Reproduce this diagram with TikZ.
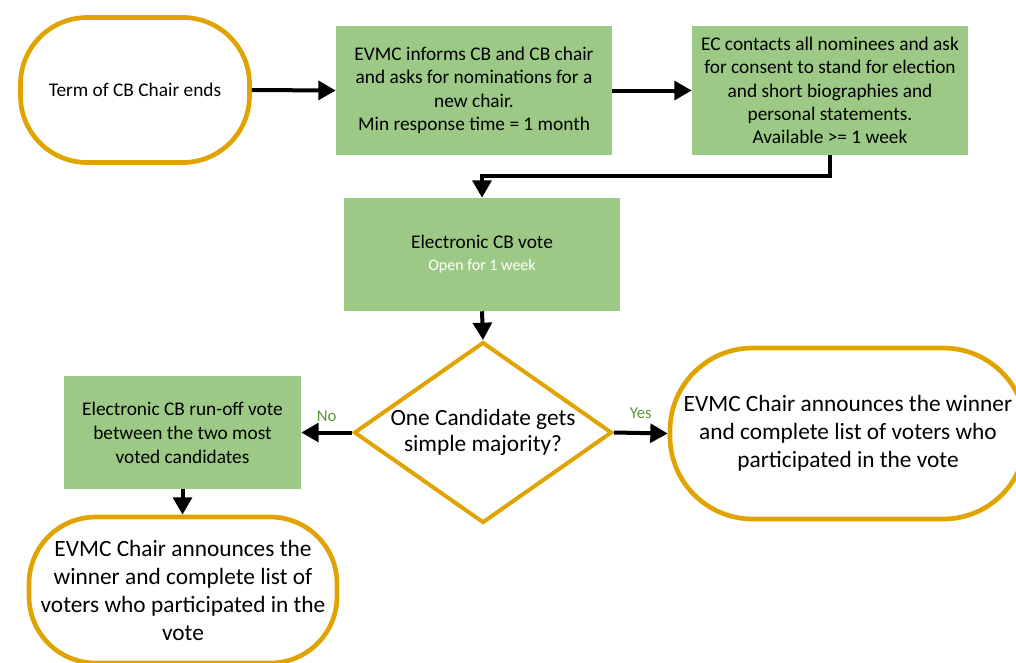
\documentclass[tikz,border=0pt]{standalone}
\usepackage{fontspec}
\setmainfont{Carlito}
\usetikzlibrary{shapes.geometric,arrows.meta}
\definecolor{gold}{RGB}{224,163,0}
\definecolor{boxgreen}{RGB}{157,201,134}
\definecolor{lblgreen}{RGB}{96,150,58}
\begin{document}
\begin{tikzpicture}[x=0.75pt,y=-0.75pt,
  terminal/.style={draw=gold, line width=3.5pt, fill=white, rounded corners=50pt, align=center, inner sep=0pt},
  proc/.style={fill=boxgreen, draw=none, align=center, inner sep=0pt, font=\fontsize{14.5}{17.5}\selectfont},
  arr/.style={line width=3pt, -{Triangle[length=13pt,width=14pt]}},
  lbl/.style={font=\fontsize{12.5}{15}\selectfont, text=lblgreen, inner sep=1pt},
  bigtext/.style={font=\fontsize{17.5}{21}\selectfont}]
\useasboundingbox (0,0) rectangle (1016,662);

\node[terminal, minimum width=229*0.75pt, minimum height=145*0.75pt, font=\fontsize{14.5}{17.5}\selectfont] (t1) at (135,90) {Term of CB Chair ends};

\node[proc, minimum width=276*0.75pt, minimum height=129*0.75pt] (b2) at (474,90.5)
  {EVMC informs CB and CB chair\\and asks for nominations for a\\new chair.\\Min response time = 1 month};

\node[proc, minimum width=276*0.75pt, minimum height=129*0.75pt] (b3) at (830,90.5)
  {EC contacts all nominees and ask\\for consent to stand for election\\and short biographies and\\personal statements.\\Available >= 1 week};

\node[proc, minimum width=276*0.75pt, minimum height=113*0.75pt] (b4) at (482,254.5)
  {Electronic CB vote\\[-1pt]{\fontsize{12}{14}\selectfont\color{white}Open for 1 week}};

\node[diamond, draw=gold, line width=3pt, fill=white, inner sep=0pt,
  minimum width=258*0.75pt, minimum height=181*0.75pt] (d) at (483,432.5) {};
\node[align=center, inner sep=0pt, font=\fontsize{17.5}{19.5}\selectfont] (dt) at (d.center) {One Candidate gets\\simple majority?};

\node[proc, minimum width=237*0.75pt, minimum height=113*0.75pt, font=\fontsize{14.5}{18}\selectfont] (b5) at (182.5,432.5)
  {Electronic CB run-off vote\\between the two most\\voted candidates};

\node[terminal, bigtext, minimum width=308*0.75pt, minimum height=146*0.75pt] (t2) at (183,590)
  {EVMC Chair announces the\\winner and complete list of\\voters who participated in the\\vote};

\node[terminal, bigtext, rounded corners=62pt, minimum width=356*0.75pt, minimum height=171*0.75pt] (t3) at (848,433.5)
  {EVMC Chair announces the winner\\and complete list of voters who\\participated in the vote};

\draw[arr] (t1.east) -- (b2.west);
\draw[arr] (b2.east) -- (b3.west);
\draw[arr] (b3.south) -- ++(0,21) -| (b4.north);
\draw[arr] (b4.south) -- (d.north);
\draw[arr] (d.west) -- (b5.east) node[lbl, midway, above=6pt] {No};
\draw[arr] (d.east) -- (t3.west) node[lbl, midway, above=8pt] {Yes};
\draw[arr] (b5.south) -- (b5.south |- t2.north);
\end{tikzpicture}
\end{document}
